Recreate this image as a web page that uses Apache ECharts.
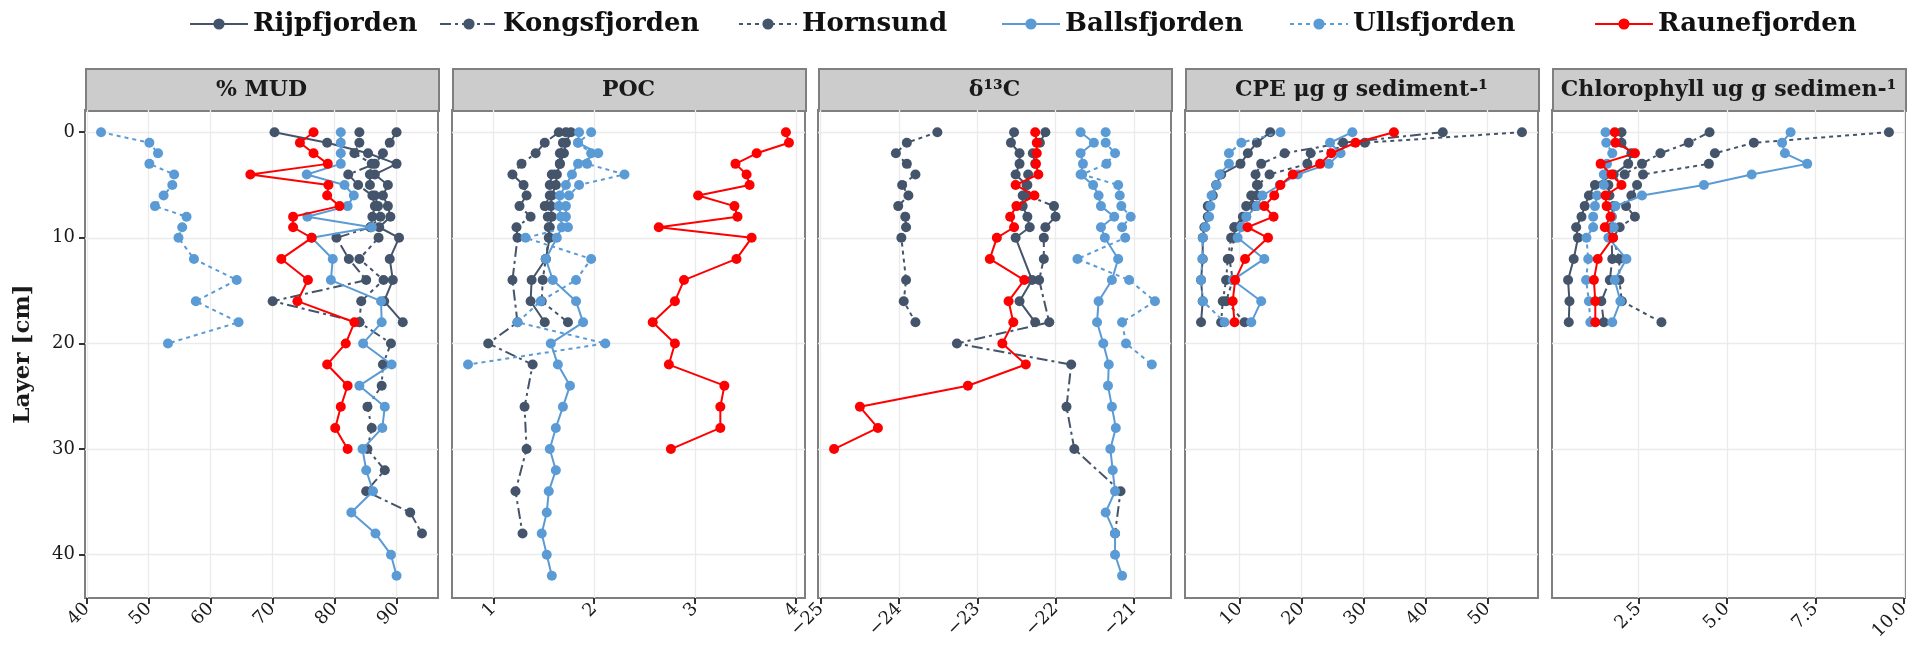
<!DOCTYPE html>
<html>
<head>
<meta charset="utf-8">
<script src="https://cdn.jsdelivr.net/npm/echarts@6/dist/echarts.min.js"></script>
<style>
  html, body { margin: 0; padding: 0; background: #ffffff; }
  #chart { width: 1917px; height: 653px; }
</style>
</head>
<body>
<div id="chart"></div>
<script>
// Sampling depths (cm); every value array below is aligned to this list.
const DEPTHS = [0,1,2,3,4,5,6,7,8,9,10,12,14,16,18,20,22,24,26,28,30,32,34,36,38,40,42];
const DEPTH_TICKS = [0,10,20,30,40];

const SITES = ['Rijpfjorden','Kongsfjorden','Hornsund','Ballsfjorden','Ullsfjorden','Raunefjorden'];
const PANEL_TITLES = ['% MUD','POC','δ¹³C','CPE μg g sediment-¹','Chlorophyll ug g sedimen-¹'];

// % MUD
const mudRijp  = [70.3,78.8,85.4,90.0,86.5,88.6,87.8,88.6,89.0,87.2,90.4, 88.9,89.4,88.0,91.0];
const mudKongs = [90.0,88.9,87.8,86.5,82.2,83.8,86.1,86.5,86.1,85.8,80.3, 82.3,85.1,70.0,84.0,89.1,87.8,87.6,85.3,86.0,85.3,88.1,85.1,92.2,94.1];
const mudHorn  = [84.0,84.0,83.2,86.0,85.7,85.7,86.5,87.0,87.4,85.8,87.1, 84.0,87.9,84.3,84.0];
const mudBalls = [81.0,81.0,81.0,81.0,75.5,81.6,83.1,82.1,75.6,86.0,76.3, 79.7,79.4,87.5,87.6,84.6,89.2,84.0,88.1,87.7,84.5,85.1,86.2,82.7,86.6,89.1,90.0];
const mudUlls  = [42.3,50.1,51.5,50.1,54.1,53.8,52.4,51.0,56.1,55.4,54.8, 57.3,64.2,57.6,64.5,53.1];
const mudRaun  = [76.6,74.4,76.6,78.9,66.4,79.0,78.8,80.8,73.3,73.3,76.3, 71.4,75.7,74.0,83.2,81.8,78.8,82.1,81.0,80.1,82.1];

// POC
const pocRijp  = [1.77,1.72,1.70,1.66,1.63,1.62,1.58,1.57,1.58,1.56,1.56, 1.52,1.38,1.37,1.51];
const pocKongs = [1.65,1.51,1.42,1.28,1.19,1.30,1.33,1.26,1.37,1.23,1.24, null,1.19,null,1.24,0.95,1.39,null,1.31,null,1.33,null,1.22,null,1.29];
const pocHorn  = [1.72,1.69,1.66,1.66,1.58,1.56,1.56,1.51,1.54,1.55,1.55, 1.52,1.49,1.48,1.74];
const pocBalls = [1.85,1.84,2.04,1.84,1.78,1.72,1.66,1.65,1.67,1.68,1.63, 1.52,1.59,1.82,1.89,1.57,1.64,1.76,1.69,1.62,1.56,1.62,1.55,1.53,1.48,1.53,1.58];
const pocUlls  = [1.97,1.84,1.97,1.93,2.30,1.85,1.75,1.72,1.72,1.74,1.32, 1.97,1.82,1.47,1.24,2.11,0.75];
const pocRaun  = [3.90,3.93,3.61,3.40,3.51,3.54,3.03,3.39,3.42,2.64,3.56, 3.41,2.89,2.80,2.58,2.80,2.74,3.29,3.25,3.25,2.76];

// δ13C
const d13Rijp  = [-22.53,-22.57,-22.46,-22.46,-22.51,-22.37,-22.42,-22.42,-22.36,-22.33,-22.51, null,-22.30,-22.46,-22.26];
const d13Kongs = [-22.13,-22.20,-22.29,-22.26,-22.35,-22.36,-22.36,-22.02,-22.00,-22.13,-22.15, -22.15,-22.21,null,-22.08,-23.26,-21.80,null,-21.86,null,-21.76,null,-21.17,null,-21.24];
const d13Horn  = [-23.51,-23.90,-24.04,-23.90,-23.79,-23.96,-23.88,-24.01,-23.92,-23.91,-23.97, null,-23.91,-23.94,-23.79];
const d13Balls = [-21.68,-21.51,-21.68,-21.65,-21.68,-21.52,-21.45,-21.42,-21.25,-21.42,-21.37, -21.20,-21.28,-21.45,-21.47,-21.39,-21.32,-21.33,-21.28,-21.23,-21.30,-21.27,-21.24,-21.36,-21.24,-21.24,-21.15];
const d13Ulls  = [-21.36,-21.36,-21.24,-21.35,-21.66,-21.20,-21.18,-21.16,-21.04,-21.15,-21.11, -21.72,-21.06,-20.73,-21.15,-21.10,-20.77];
const d13Raun  = [-22.26,-22.24,-22.24,-22.25,-22.22,-22.51,-22.27,-22.50,-22.58,-22.53,-22.75, -22.84,-22.40,-22.60,-22.54,-22.68,-22.38,-23.12,-24.50,-24.27,-24.83];

// CPE (μg g sediment⁻¹)
const cpeRijp  = [14.96,12.80,11.35,10.16,7.04,6.23,5.69,4.88,4.88,4.34,4.07, 4.07,3.80,4.07,3.80];
const cpeKongs = [42.78,26.71,17.28,13.50,12.59,12.80,12.80,11.08,10.54,9.19,8.65, 8.11,7.84,7.30,7.04];
const cpeHorn  = [55.55,30.22,21.48,20.94,14.85,12.96,11.89,12.43,11.08,9.19,9.19, 8.38,8.92,7.84,10.81];
const cpeBalls = [28.2,24.6,26.3,24.4,19.4,16.5,13.7,12.8,11.1,10.3,9.7, 14.0,8.9,13.5,11.9];
const cpeUlls  = [16.6,10.3,8.3,8.3,6.8,6.3,5.5,5.3,5.1,4.5,4.1, 4.0,3.8,4.1,7.6];
const cpeRaun  = [34.9,28.7,24.8,23.0,18.6,16.6,15.6,14.0,15.5,11.3,14.6, 10.9,9.3,8.9,9.2];

// Chlorophyll (ug g sediment⁻¹)
const chlRijp  = [2.02,2.02,2.30,2.21,1.80,1.27,1.10,0.98,0.89,0.74,0.79, 0.67,0.51,0.55,0.53];
const chlKongs = [4.51,3.92,3.12,2.60,2.11,1.65,1.68,1.80,1.74,1.74,1.74, 1.76,1.69,1.45,1.52];
const chlHorn  = [9.58,5.76,4.66,4.49,2.63,2.46,2.30,2.15,2.40,1.97,1.78, 1.96,1.96,2.03,3.15];
const chlBalls = [6.80,6.56,6.64,7.27,5.70,4.35,2.60,1.85,1.75,1.80,1.65, 2.16,1.83,1.99,1.76];
const chlUlls  = [1.57,1.59,1.76,1.61,1.52,1.52,1.33,1.27,1.22,1.22,1.03, 1.08,1.02,1.10,1.14];
const chlRaun  = [1.83,1.85,2.40,1.43,1.74,2.02,1.57,1.60,1.71,1.55,1.78, 1.35,1.24,1.28,1.28];

// x tick labels per panel
const mudTicks = [40,50,60,70,80,90];
const pocTicks = [1,2,3,4];
const d13Ticks = [-25,-24,-23,-22,-21];
const cpeTicks = [10,20,30,40,50];
const chlTicks = [2.5,5.0,7.5,10.0];

const panelValues = [
  [mudRijp, mudKongs, mudHorn, mudBalls, mudUlls, mudRaun],
  [pocRijp, pocKongs, pocHorn, pocBalls, pocUlls, pocRaun],
  [d13Rijp, d13Kongs, d13Horn, d13Balls, d13Ulls, d13Raun],
  [cpeRijp, cpeKongs, cpeHorn, cpeBalls, cpeUlls, cpeRaun],
  [chlRijp, chlKongs, chlHorn, chlBalls, chlUlls, chlRaun]
];
const panelTicks = [mudTicks, pocTicks, d13Ticks, cpeTicks, chlTicks];

// ---- layout & styling ----
const DARK = '#44546a', LIGHT = '#5b9bd5', RED = '#ff0000';
const siteStyle = {
  Rijpfjorden:  { color: DARK,  dash: 'solid' },
  Kongsfjorden: { color: DARK,  dash: [11, 4, 3, 4] },
  Hornsund:     { color: DARK,  dash: [4, 4] },
  Ballsfjorden: { color: LIGHT, dash: 'solid' },
  Ullsfjorden:  { color: LIGHT, dash: [4, 4] },
  Raunefjorden: { color: RED,   dash: 'solid' }
};
const SERIF = '"DejaVu Serif", serif';
const PANEL_LEFT = [85, 452, 818, 1185, 1552];
const PANEL_W = 353, PANEL_TOP = 110, PANEL_H = 488;
const STRIP_TOP = 68, STRIP_H = 42;

// x range of each facet: data extent padded by 5% on both sides
function paddedExtent(arrays) {
  let lo = Infinity, hi = -Infinity;
  arrays.forEach(a => a.forEach(v => { if (v != null) { lo = Math.min(lo, v); hi = Math.max(hi, v); } }));
  const pad = (hi - lo) * 0.05;
  return [lo - pad, hi + pad];
}
const yPad = (DEPTHS[DEPTHS.length - 1] - DEPTHS[0]) * 0.05;

const grids = [], xAxes = [], yAxes = [], series = [], graphics = [];
panelValues.forEach((vals, p) => {
  grids.push({
    left: PANEL_LEFT[p], top: PANEL_TOP, width: PANEL_W, height: PANEL_H,
    show: true, borderColor: '#7f7f7f', borderWidth: 2, backgroundColor: '#ffffff'
  });
  const ext = paddedExtent(vals);
  const ticks = panelTicks[p];
  xAxes.push({
    type: 'value', gridIndex: p, min: ext[0], max: ext[1],
    axisLine: { show: false, onZero: false },
    axisTick: { show: true, length: 6, customValues: ticks, lineStyle: { color: '#333333', width: 2 } },
    axisLabel: {
      customValues: ticks, rotate: 45, margin: 8,
      fontFamily: SERIF, fontSize: 18, color: '#1a1a1a',
      formatter: v => p === 4 ? Number(v).toFixed(1) : String(v).replace('-', '\u2212')
    },
    splitLine: { show: true, lineStyle: { color: '#ebebeb', width: 1.3 } }
  });
  yAxes.push({
    type: 'value', gridIndex: p, inverse: true,
    min: DEPTHS[0] - yPad, max: DEPTHS[DEPTHS.length - 1] + yPad,
    axisLine: { show: false, onZero: false },
    axisTick: { show: p === 0, length: 6, customValues: DEPTH_TICKS, lineStyle: { color: '#333333', width: 2 } },
    axisLabel: { show: p === 0, customValues: DEPTH_TICKS, margin: 10, fontFamily: SERIF, fontSize: 18, color: '#1a1a1a' },
    splitLine: { show: true, lineStyle: { color: '#ebebeb', width: 1.3 } },
    name: p === 0 ? 'Layer [cm]' : '',
    nameLocation: 'middle', nameRotate: 90, nameGap: 50,
    nameTextStyle: { fontFamily: SERIF, fontWeight: 'bold', fontSize: 23, color: '#1a1a1a' }
  });
  SITES.forEach((site, s) => {
    const pts = [];
    vals[s].forEach((v, i) => { if (v != null) pts.push([v, DEPTHS[i]]); });
    const st = siteStyle[site];
    series.push({
      name: site, type: 'line', xAxisIndex: p, yAxisIndex: p,
      data: pts, symbol: 'circle', symbolSize: 10, showSymbol: true,
      color: st.color,
      lineStyle: { color: st.color, width: 2, type: st.dash },
      itemStyle: { color: st.color },
      emphasis: { disabled: true }, animation: false, z: 2 + s
    });
  });
  // facet strip
  graphics.push({
    type: 'rect', left: PANEL_LEFT[p], top: STRIP_TOP,
    shape: { width: PANEL_W, height: STRIP_H },
    style: { fill: '#cccccc', stroke: '#7f7f7f', lineWidth: 2 }, silent: true
  });
  graphics.push({
    type: 'text', x: PANEL_LEFT[p] + PANEL_W / 2, y: STRIP_TOP + STRIP_H / 2 + 1,
    style: {
      text: PANEL_TITLES[p], align: 'center', verticalAlign: 'middle',
      font: 'bold 22px ' + SERIF, fill: '#1a1a1a'
    }, silent: true
  });
});

// one legend per site so each key sits where it belongs
const legendLeft = [184, 434, 733, 996, 1284, 1589];
const legends = SITES.map((site, i) => ({
  data: [site], left: legendLeft[i], top: 6,
  itemWidth: 58, itemHeight: 14, selectedMode: false,
  textStyle: { fontFamily: SERIF, fontWeight: 'bold', fontSize: 26, color: '#111111' }
}));

const chart = echarts.init(document.getElementById('chart'), null, { renderer: 'canvas' });
chart.setOption({
  backgroundColor: '#ffffff',
  animation: false,
  legend: legends,
  grid: grids,
  xAxis: xAxes,
  yAxis: yAxes,
  series: series,
  graphic: graphics
});
</script>
</body>
</html>
